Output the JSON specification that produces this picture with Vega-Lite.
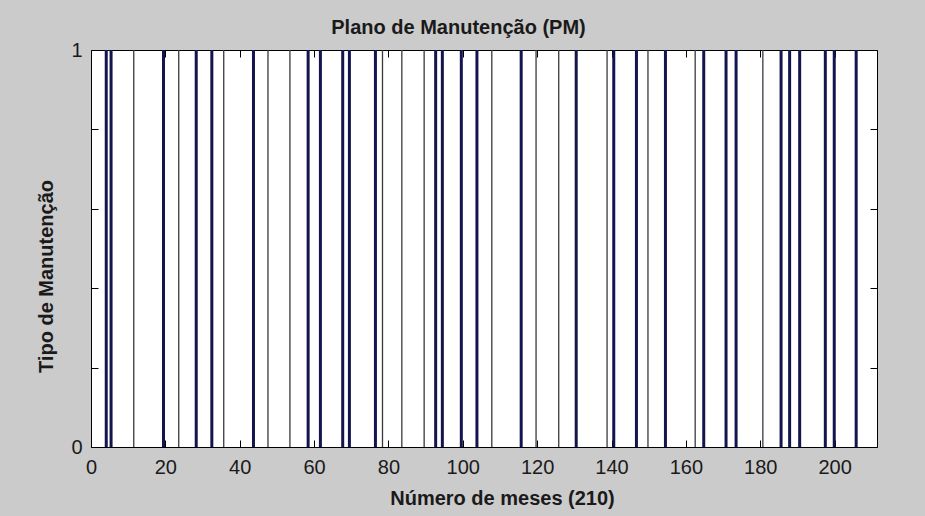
{
  "$schema": "https://vega.github.io/schema/vega-lite/v6.json",
  "width": 786,
  "height": 397,
  "autosize": {"type": "none"},
  "padding": {"left": 91, "top": 50, "right": 48, "bottom": 69},
  "background": "#cbcbcb",
  "config": {
    "font": "Liberation Sans",
    "view": {"fill": "white", "stroke": "black", "strokeWidth": 1},
    "axis": {
      "domain": false,
      "grid": false,
      "tickColor": "black",
      "tickWidth": 1,
      "tickSize": -7,
      "labelColor": "#1a1a1a",
      "labelFontSize": 20,
      "labelFlush": false,
      "labelOverlap": false,
      "titleColor": "#1a1a1a",
      "titleFontSize": 20,
      "titleFontWeight": "bold"
    }
  },
  "data": {
    "values": [
      {"mes": 4.1, "categoria": "principal"},
      {"mes": 5.4, "categoria": "principal"},
      {"mes": 11.5, "categoria": "auxiliar"},
      {"mes": 19.5, "categoria": "principal"},
      {"mes": 23.6, "categoria": "auxiliar"},
      {"mes": 28.3, "categoria": "principal"},
      {"mes": 32.5, "categoria": "principal"},
      {"mes": 35.7, "categoria": "auxiliar"},
      {"mes": 43.7, "categoria": "principal"},
      {"mes": 47.6, "categoria": "auxiliar"},
      {"mes": 53.5, "categoria": "auxiliar"},
      {"mes": 58.4, "categoria": "principal"},
      {"mes": 61.7, "categoria": "principal"},
      {"mes": 67.7, "categoria": "principal"},
      {"mes": 69.5, "categoria": "principal"},
      {"mes": 76.5, "categoria": "principal"},
      {"mes": 78.4, "categoria": "auxiliar"},
      {"mes": 83.6, "categoria": "auxiliar"},
      {"mes": 89.6, "categoria": "auxiliar"},
      {"mes": 92.7, "categoria": "principal"},
      {"mes": 94.5, "categoria": "principal"},
      {"mes": 99.6, "categoria": "principal"},
      {"mes": 103.8, "categoria": "principal"},
      {"mes": 107.8, "categoria": "auxiliar"},
      {"mes": 115.7, "categoria": "principal"},
      {"mes": 119.7, "categoria": "auxiliar"},
      {"mes": 125.8, "categoria": "auxiliar"},
      {"mes": 130.5, "categoria": "principal"},
      {"mes": 138.8, "categoria": "auxiliar"},
      {"mes": 140.6, "categoria": "principal"},
      {"mes": 146.7, "categoria": "principal"},
      {"mes": 149.8, "categoria": "auxiliar"},
      {"mes": 154.5, "categoria": "principal"},
      {"mes": 162.5, "categoria": "auxiliar"},
      {"mes": 164.8, "categoria": "principal"},
      {"mes": 170.8, "categoria": "principal"},
      {"mes": 173.5, "categoria": "principal"},
      {"mes": 180.7, "categoria": "auxiliar"},
      {"mes": 185.6, "categoria": "principal"},
      {"mes": 187.9, "categoria": "principal"},
      {"mes": 190.6, "categoria": "principal"},
      {"mes": 197.5, "categoria": "principal"},
      {"mes": 199.9, "categoria": "principal"},
      {"mes": 205.8, "categoria": "principal"}
    ]
  },
  "resolve": {"axis": {"x": "independent", "y": "independent"}},
  "layer": [
    {
      "mark": {"type": "rule"},
      "encoding": {
        "x": {
          "field": "mes",
          "type": "quantitative",
          "scale": {"domain": [0, 211.4], "nice": false, "zero": false},
          "axis": {
            "orient": "bottom",
            "values": [0, 20, 40, 60, 80, 100, 120, 140, 160, 180, 200],
            "labelPadding": 17,
            "labelBaseline": "top",
            "title": "Número de meses (210)",
            "titleX": 411,
            "titleY": 57,
            "titleBaseline": "alphabetic"
          }
        },
        "y": {
          "datum": 0,
          "type": "quantitative",
          "scale": {"domain": [0, 1], "nice": false},
          "axis": {
            "orient": "left",
            "values": [0, 0.2, 0.4, 0.6, 0.8, 1],
            "labelExpr": "datum.value == 0 ? '0' : (datum.value == 1 ? '1' : '')",
            "labelPadding": 16,
            "title": "Tipo de Manutenção",
            "titleAngle": -90,
            "titleX": -45,
            "titleY": 226,
            "titleBaseline": "middle"
          }
        },
        "y2": {"datum": 1},
        "color": {
          "field": "categoria",
          "type": "nominal",
          "scale": {"domain": ["principal", "auxiliar"], "range": ["#14144e", "#3a3a3a"]},
          "legend": null
        },
        "strokeWidth": {
          "field": "categoria",
          "type": "ordinal",
          "scale": {"domain": ["principal", "auxiliar"], "range": [3, 1.3]},
          "legend": null
        }
      }
    },
    {
      "mark": {"type": "rule", "opacity": 0},
      "encoding": {
        "x": {
          "field": "mes",
          "type": "quantitative",
          "axis": {
            "orient": "top",
            "values": [0, 20, 40, 60, 80, 100, 120, 140, 160, 180, 200],
            "labels": false,
            "title": "Plano de Manutenção (PM)",
            "titleX": 367,
            "titleY": -17,
            "titleBaseline": "alphabetic"
          }
        },
        "y": {
          "datum": 0,
          "type": "quantitative",
          "axis": {
            "orient": "right",
            "values": [0, 0.2, 0.4, 0.6, 0.8, 1],
            "labels": false,
            "title": null
          }
        },
        "y2": {"datum": 1}
      }
    }
  ]
}
